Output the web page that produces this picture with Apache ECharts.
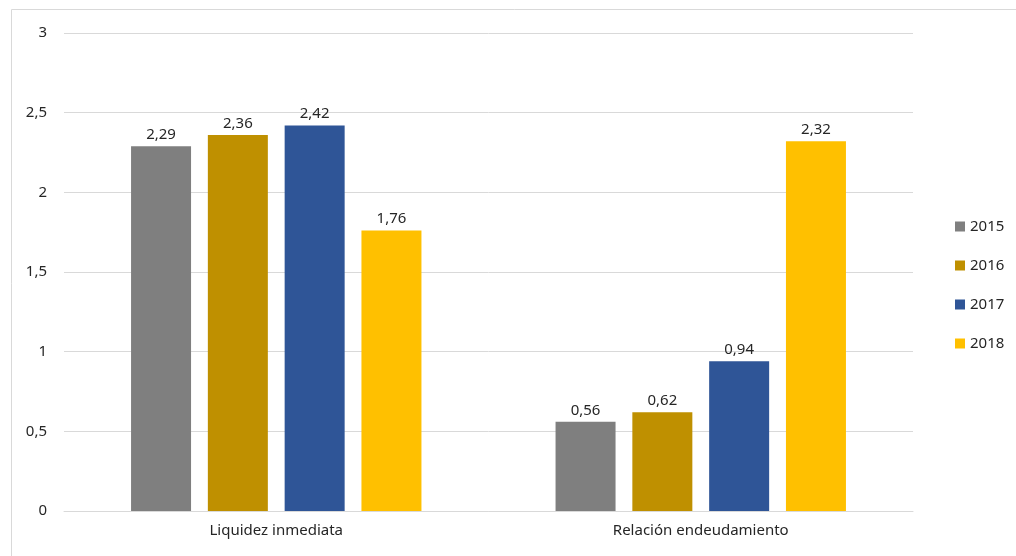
<!DOCTYPE html>
<html>
<head>
<meta charset="utf-8">
<script src="https://cdn.jsdelivr.net/npm/echarts@6/dist/echarts.min.js"></script>
<style>html,body{margin:0;padding:0;background:#fff}#c{width:1016px;height:556px}</style>
</head>
<body>
<div id="c"></div>
<script>
const categories = ['Liquidez inmediata', 'Relación endeudamiento'];
const years = ['2015', '2016', '2017', '2018'];
const v2015 = [2.29, 0.56];
const v2016 = [2.36, 0.62];
const v2017 = [2.42, 0.94];
const v2018 = [1.76, 2.32];
const yTicks = [0, 0.5, 1, 1.5, 2, 2.5, 3];
const colors = ['#7f7f7f', '#bf9000', '#2f5597', '#ffc000'];

const values = [v2015, v2016, v2017, v2018];
const fmt = v => String(v).replace('.', ',');
const font = '"Noto Sans", "Open Sans", sans-serif';
const txt = '#262626';

const chart = echarts.init(document.getElementById('c'), null, {renderer: 'canvas'});
chart.setOption({
  animation: false,
  textStyle: {fontFamily: font},
  graphic: [{
    type: 'rect', left: 9, top: 7, silent: true,
    shape: {width: 1100, height: 700},
    style: {fill: 'none', stroke: '#d9d9d9', lineWidth: 1}
  }],
  grid: {left: 64, right: 103, top: 33, bottom: 45, containLabel: false},
  legend: {
    orient: 'vertical', left: 950, top: 214,
    itemWidth: 10, itemHeight: 10, itemGap: 24,
    icon: 'rect',
    textStyle: {fontSize: 15, color: txt, lineHeight: 15, fontFamily: font},
    data: years
  },
  xAxis: {
    type: 'category', data: categories,
    axisLine: {lineStyle: {color: '#d9d9d9'}},
    axisTick: {show: false},
    axisLabel: {fontSize: 15, color: txt, margin: 12, fontFamily: font}
  },
  yAxis: {
    type: 'value', min: yTicks[0], max: yTicks[yTicks.length - 1], interval: 0.5,
    axisLine: {show: false}, axisTick: {show: false},
    splitLine: {lineStyle: {color: '#d9d9d9'}},
    axisLabel: {fontSize: 15, color: txt, margin: 17, formatter: v => fmt(v), fontFamily: font}
  },
  series: years.map((y, i) => ({
    name: y, type: 'bar', data: values[i],
    barWidth: 60, barGap: '28%',
    itemStyle: {color: colors[i]},
    label: {show: true, position: 'top', fontSize: 15, color: txt, distance: 4,
            formatter: p => fmt(p.value), fontFamily: font}
  }))
});
</script>
</body>
</html>
